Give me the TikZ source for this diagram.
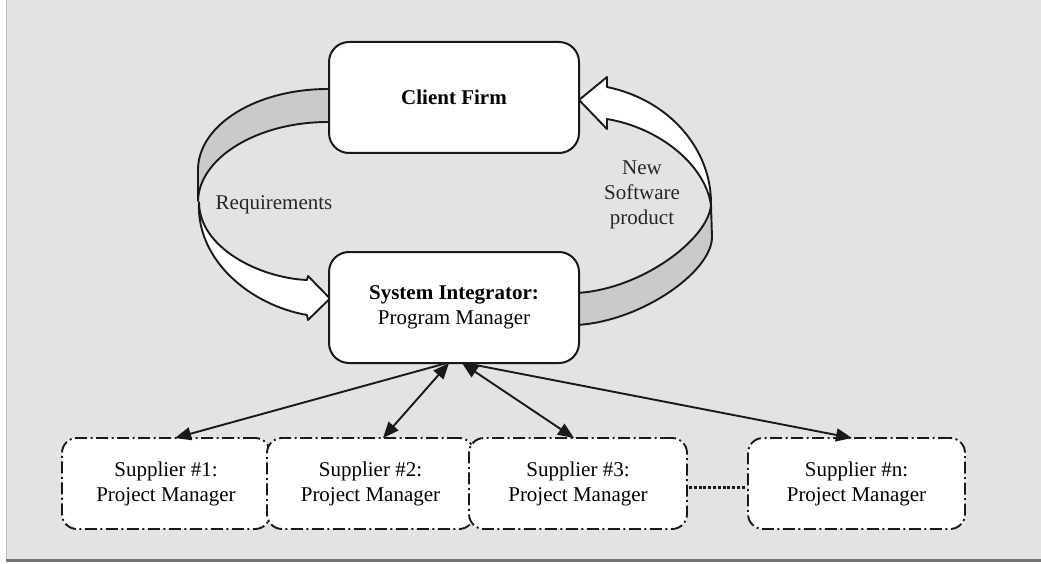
\documentclass[tikz,border=0pt]{standalone}
\usepackage{fontspec}
\setmainfont{Liberation Serif}
\usetikzlibrary{arrows.meta,calc}
\definecolor{panel}{RGB}{226,227,229}
\definecolor{band}{RGB}{201,202,204}
\definecolor{edge}{RGB}{25,25,25}
\tikzset{
  mainbox/.style={draw=edge, fill=white, line width=2pt, rounded corners=20pt,
    minimum width=250pt, minimum height=111pt, inner sep=0pt, outer sep=0pt,
    align=center, font=\fontsize{21}{25}\selectfont},
  supbox/.style={draw=edge, fill=white, line width=1.9pt, rounded corners=15pt,
    dash pattern=on 12pt off 3.5pt on 2pt off 3.5pt,
    minimum height=91pt, inner sep=0pt, outer sep=0pt,
    align=center, font=\fontsize{21}{25}\selectfont},
  ribbon/.style={draw=edge, line width=1.9pt, line join=round},
  link/.style={draw=edge, line width=1.9pt},
  tip/.style={-{Triangle[length=16pt,width=13pt]}},
  dtip/.style={{Triangle[length=16pt,width=13pt]}-{Triangle[length=16pt,width=13pt]}},
  lbl/.style={align=center, text=black!85, font=\fontsize{21}{25}\selectfont, inner sep=0pt}
}
\begin{document}
\begin{tikzpicture}[x=1pt,y=-1pt]
\useasboundingbox (0,0) rectangle (1041,564);
% background panel
\fill[white] (0,0) rectangle (1041,564);
\fill[panel] (7,0) rectangle (1041,559);
\draw[black!25, line width=1.2pt] (6.5,0) -- (6.5,559);
\draw[black!55, line width=3pt] (6,560.5) -- (1041,560.5);

% Requirements ribbon (gray back part)
\path[ribbon, fill=band] (332,89) -- (328,89) .. controls (256,89) and (198,125) .. (198,170)
  -- (198,201) .. controls (199,158) and (257,122) .. (328,122) -- (332,122) -- cycle;
% Requirements ribbon (white front part with head)
\path[ribbon, fill=white] (199,202) .. controls (199,248) and (260,278) .. (307,280)
  -- (308,276) -- (330,298.5) -- (308,320) -- (307,315)
  .. controls (250,305) and (196,260) .. (199,202) -- cycle;

% New Software product ribbon (white front part with head)
\path[ribbon, fill=white] (711,205) .. controls (705,165) and (660,128) .. (607,119)
  -- (607,129) -- (579,100) -- (607,77) -- (607,87)
  .. controls (670,100) and (712,150) .. (711,205) -- cycle;
% New Software product ribbon (gray back part)
\path[ribbon, fill=band] (711,205) .. controls (708,240) and (640,290) .. (576,293)
  -- (576,325) .. controls (640,322) and (712,272) .. (712,237) -- cycle;

% main boxes
\node[mainbox] (client) at (454,97.5) {\bfseries Client Firm};
\node[mainbox] (si) at (454,307.5) {\textbf{System Integrator:}\\Program Manager};

% supplier boxes
\node[supbox, minimum width=208pt] (s1) at (166,483.5) {Supplier \#1:\\Project Manager};
\node[supbox, minimum width=207pt] (s2) at (370.5,483.5) {Supplier \#2:\\Project Manager};
\node[supbox, minimum width=218pt] (s3) at (578,483.5) {Supplier \#3:\\Project Manager};
\node[supbox, minimum width=217pt] (sn) at (856.5,483.5) {Supplier \#n:\\Project Manager};

% connectors
\coordinate (siA) at ($(si.south)+(-7,0)$);
\coordinate (siB) at ($(si.south)+(-5,0)$);
\coordinate (siC) at ($(si.south)+(8,0)$);
\coordinate (siD) at ($(si.south)+(11,0)$);
\coordinate (s1t) at ($(s1.north)+(9,0)$);
\coordinate (s2t) at ($(s2.north)+(12.5,0)$);
\coordinate (s3t) at ($(s3.north)+(-4,0)$);
\coordinate (snt) at ($(sn.north)+(-4.5,0)$);
\draw[link, tip] (siA) -- (s1t);
\draw[link, tip] (siD) -- (snt);
\draw[link, dtip] (siB) -- (s2t);
\draw[link, dtip] (siC) -- (s3t);
\draw[edge, line width=3pt, dash pattern=on 3pt off 1.8pt] ($(s3.east)+(2,3.5)$) -- ($(sn.west)+(-2,3.5)$);

% labels
\node[lbl] (req) at (274,205) {Requirements};
\node[lbl] (nsp) at (642,195) {New\\Software\\product};
\end{tikzpicture}
\end{document}
